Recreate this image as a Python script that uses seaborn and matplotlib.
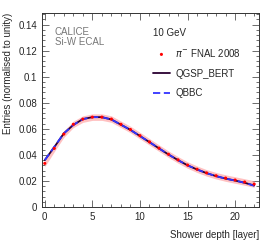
import numpy as np
import pandas as pd
import matplotlib
matplotlib.use("Agg")
import matplotlib.pyplot as plt
import seaborn as sns
from matplotlib.ticker import MultipleLocator

sns.set_style("ticks")
plt.rcParams['font.family'] = ['Liberation Sans', 'DejaVu Sans']

layers = list(range(23))
data_vals = [0.0335, 0.045, 0.056, 0.0635, 0.0675, 0.069, 0.069, 0.0675, 0.0635, 0.0595, 0.0548,
             0.050, 0.0452, 0.0405, 0.0362, 0.0322, 0.0290, 0.0262, 0.0240, 0.0222, 0.0207, 0.0192, 0.0176]
data_err = [0.0025] * 23
qgsp_vals = [0.036, 0.046, 0.0565, 0.063, 0.0675, 0.069, 0.069, 0.0672, 0.0632, 0.0592, 0.0545,
             0.0498, 0.0450, 0.0403, 0.0360, 0.0320, 0.0288, 0.0260, 0.0237, 0.0218, 0.0203, 0.0186, 0.0165]
qbbc_vals = [0.036, 0.0462, 0.0565, 0.063, 0.0675, 0.069, 0.069, 0.0672, 0.0632, 0.0592, 0.0545,
             0.0498, 0.0450, 0.0403, 0.0360, 0.0320, 0.0288, 0.0260, 0.0237, 0.0218, 0.0203, 0.0186, 0.0163]

df = pd.DataFrame({"layer": layers, "data": data_vals, "err": data_err,
                   "qgsp": qgsp_vals, "qbbc": qbbc_vals})

fig = plt.figure(figsize=(2.74, 2.40), dpi=100)
ax = fig.add_axes([0.153, 0.1375, 0.792, 0.8085])

ax.fill_between(df["layer"], df["data"] - df["err"], df["data"] + df["err"],
                color="#ff9999", alpha=0.6, lw=0)
sns.lineplot(data=df, x="layer", y="qgsp", ax=ax, color="#2a0030", lw=1.3, label="QGSP_BERT")
sns.lineplot(data=df, x="layer", y="qbbc", ax=ax, color="#3333ff", lw=1.3,
             dashes=(4, 2), label="QBBC")
ax.lines[-1].set_dashes((4, 2))
sns.scatterplot(data=df, x="layer", y="data", ax=ax, color="#ff0000", s=5,
                edgecolor="none", label=r"$\pi^{-}$ FNAL 2008", zorder=5)

ax.set_xlim(-0.3, 22.5)
ax.set_ylim(0, 0.149)
ax.xaxis.set_major_locator(MultipleLocator(5))
ax.xaxis.set_minor_locator(MultipleLocator(1))
ax.yaxis.set_major_locator(MultipleLocator(0.02))
ax.yaxis.set_minor_locator(MultipleLocator(0.004))
ax.set_yticks([0, 0.02, 0.04, 0.06, 0.08, 0.1, 0.12, 0.14])
ax.set_yticklabels(["0", "0.02", "0.04", "0.06", "0.08", "0.1", "0.12", "0.14"])
ax.tick_params(which="both", direction="in", top=True, right=True, labelsize=7, color="#555555")
ax.tick_params(which="major", length=5, width=0.6)
ax.tick_params(which="minor", length=2.5, width=0.6)
for s in ax.spines.values():
    s.set_linewidth(0.7)
    s.set_color("#333333")

ax.set_xlabel("Shower depth [layer]", fontsize=7, ha="right", x=1.0, labelpad=6)
ax.set_ylabel("Entries (normalised to unity)", fontsize=7, ha="right", y=1.0, labelpad=4)

ax.text(0.06, 0.93, "CALICE\nSi-W ECAL", transform=ax.transAxes, fontsize=7,
        color="#777777", va="top", linespacing=1.0)
ax.text(0.51, 0.925, "10 GeV", transform=ax.transAxes, fontsize=7, va="top")

h, l = ax.get_legend_handles_labels()
order = [2, 0, 1]
ax.legend([h[i] for i in order], [l[i] for i in order], loc="upper left",
          bbox_to_anchor=(0.47, 0.87), frameon=False, fontsize=7,
          handlelength=1.8, labelspacing=1.0, handletextpad=0.5)

fig.savefig("out.png", dpi=100)
